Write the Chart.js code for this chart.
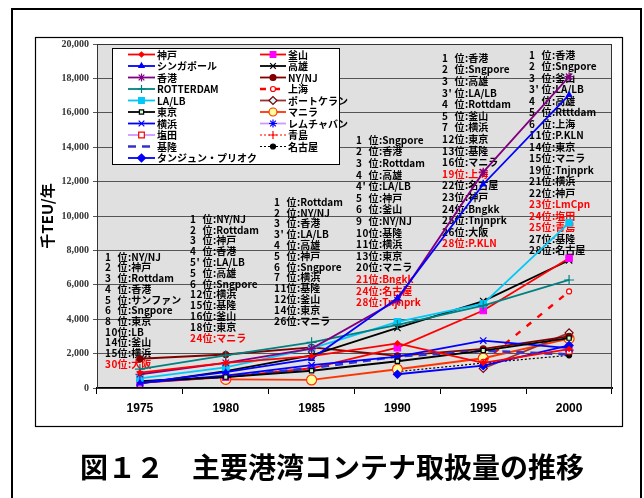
<!DOCTYPE html>
<html>
<head>
<meta charset="utf-8">
<script src="https://cdn.jsdelivr.net/npm/chart.js@4/dist/chart.umd.min.js"></script>
<style>
html,body{margin:0;padding:0;background:#fff}
canvas{display:block}
</style>
</head>
<body>
<canvas id="c" width="644" height="498"></canvas>
<script>
// 年次
const years = ['1975', '1980', '1985', '1990', '1995', '2000'];

// 取扱量（千TEU/年）
const kobe      = [900, 1456, 1857, 2596, 1464, 2266];
const singapore = [300, 917, 1699, 5224, 11846, 17040];
const hongkong  = [800, 1465, 2289, 5101, 12550, 18100];
const rotterdam = [1100, 1901, 2655, 3666, 4787, 6280];
const lalb      = [560, 1200, 2300, 3850, 4900, 9600];
const tokyo     = [400, 632, 1003, 1555, 2177, 2899];
const yokohama  = [300, 722, 1327, 1830, 2757, 2317];
const yantian   = [null, null, null, null, null, 2140];
const keelung   = [350, 660, 1158, 1828, 2166, 1955];
const tanjung   = [null, null, null, 800, 1300, 2476];
const busan     = [300, 634, 1148, 2348, 4503, 7540];
const kaohsiung = [250, 979, 1901, 3495, 5053, 7426];
const nynj      = [1700, 1947, 2367, 1872, 2273, 3006];
const shanghai  = [null, null, null, null, 1527, 5613];
const klang     = [null, null, null, null, 1134, 3206];
const manila    = [null, 500, 470, 1090, 1730, 2870];
const laemchabang = [null, null, null, null, null, 2200];
const qingdao   = [null, null, null, null, null, 2120];
const nagoya    = [null, null, null, 950, 1450, 1900];

// 各年の世界順位
const rank1975 = ['1 位:NY/NJ', '2 位:神戸', '3 位:Rottdam', '4 位:香港', '5 位:サンファン', '6 位:Sngpore', '8 位:東京', '10位:LB', '14位:釜山', '15位:横浜', '30位:大阪'];
const rank1980 = ['1 位:NY/NJ', '2 位:Rottdam', '3 位:神戸', '4 位:香港', "5'位:LA/LB", '5 位:高雄', '6 位:Sngpore', '12位:横浜', '15位:基隆', '16位:釜山', '18位:東京', '24位:マニラ'];
const rank1985 = ['1 位:Rottdam', '2 位:NY/NJ', '3 位:香港', "3'位:LA/LB", '4 位:高雄', '5 位:神戸', '6 位:Sngpore', '7 位:横浜', '11位:基隆', '12位:釜山', '14位:東京', '26位:マニラ'];
const rank1990 = ['1 位:Sngpore', '2 位:香港', '3 位:Rottdam', '4 位:高雄', "4'位:LA/LB", '5 位:神戸', '6 位:釜山', '9 位:NY/NJ', '10位:基隆', '11位:横浜', '13位:東京', '20位:マニラ', '21位:Bngkk', '24位:名古屋', '28位:Tnjnprk'];
const rank1995 = ['1 位:香港', '2 位:Sngpore', '3 位:高雄', "3'位:LA/LB", '4 位:Rottdam', '5 位:釜山', '7 位:横浜', '12位:東京', '13位:基隆', '16位:マニラ', '19位:上海', '22位:名古屋', '23位:神戸', '24位:Bngkk', '25位:Tnjnprk', '26位:大阪', '28位:P.KLN'];
const rank2000 = ['1 位:香港', '2 位:Sngpore', '3 位:釜山', "3'位:LA/LB", '4 位:高雄', '5 位:Rtttdam', '6 位:上海', '11位:P.KLN', '14位:東京', '15位:マニラ', '19位:Tnjnprk', '21位:横浜', '22位:神戸', '23位:LmCpn', '24位:塩田', '25位:青島', '27位:基隆', '28位:名古屋'];

// 赤字で示す行（新規参入港）
const red1975 = [10];
const red1980 = [11];
const red1985 = [];
const red1990 = [12, 13, 14];
const red1995 = [10, 16];
const red2000 = [13, 14, 15];

const yTicks = [0, 2000, 4000, 6000, 8000, 10000, 12000, 14000, 16000, 18000, 20000];

// 系列ごとの線と記号
function series(label, data, color, style, extra) {
  return Object.assign({
    label, data,
    borderColor: color,
    backgroundColor: color,
    borderWidth: 1.8,
    pointStyle: style,
    pointRadius: 3.5,
    pointBorderColor: color,
    pointBackgroundColor: color,
    pointBorderWidth: 1.2,
    tension: 0,
    spanGaps: false
  }, extra || {});
}

const datasets = [
  series('神戸', kobe, '#ff0000', 'rectRot', {pointRadius: 2.5}),
  series('シンガポール', singapore, '#0000ff', 'triangle', {pointRadius: 3}),
  series('香港', hongkong, '#800080', 'star', {pointRadius: 4.5}),
  series('ROTTERDAM', rotterdam, '#008080', 'cross', {pointRadius: 5}),
  series('LA/LB', lalb, '#00c8f8', 'rect', {pointRadius: 4.5}),
  series('東京', tokyo, '#000000', 'rect', {pointRadius: 3, pointBackgroundColor: '#ccffcc'}),
  series('横浜', yokohama, '#0000ff', 'crossRot', {pointRadius: 4.5}),
  series('塩田', yantian, '#cc99ff', 'rect', {pointRadius: 4, pointBorderColor: '#ff0000', pointBackgroundColor: '#ffffff'}),
  series('基隆', keelung, '#3333cc', false, {pointRadius: 0, borderWidth: 2.6, borderDash: [8, 6]}),
  series('タンジュン・プリオク', tanjung, '#0000ff', 'rectRot', {pointRadius: 4}),
  series('釜山', busan, '#ff0000', 'rect', {pointRadius: 4.5, pointBorderColor: '#ff00ff', pointBackgroundColor: '#ff00ff'}),
  series('高雄', kaohsiung, '#000000', 'crossRot', {pointRadius: 4.5}),
  series('NY/NJ', nynj, '#800000', 'circle', {pointRadius: 3}),
  series('上海', shanghai, '#ff0000', 'circle', {pointRadius: 2.5, pointBackgroundColor: '#ffffff', borderWidth: 2.4, borderDash: [6, 8]}),
  series('ポートケラン', klang, '#993333', 'rectRot', {pointRadius: 4, pointBorderColor: '#800000', pointBackgroundColor: '#ccffff'}),
  series('マニラ', manila, '#ff3300', 'circle', {pointRadius: 5, pointBackgroundColor: '#ffff99'}),
  series('レムチャバン', laemchabang, '#cc99ff', 'star', {pointRadius: 4.5, pointBorderColor: '#0000ff', pointBackgroundColor: '#0000ff'}),
  series('青島', qingdao, '#ff0000', 'cross', {pointRadius: 4, borderWidth: 1.2, borderDash: [2, 2]}),
  series('名古屋', nagoya, '#000000', 'circle', {pointRadius: 2.5, borderWidth: 1.2, borderDash: [2, 2]})
];

const rankColumns = [
  {rows: rank1975, red: red1975, x: 105, y: 257, step: 10.7},
  {rows: rank1980, red: red1980, x: 190, y: 219, step: 10.8},
  {rows: rank1985, red: red1985, x: 274, y: 202, step: 10.8},
  {rows: rank1990, red: red1990, x: 356, y: 140, step: 11.6},
  {rows: rank1995, red: red1995, x: 442, y: 58, step: 11.6},
  {rows: rank2000, red: red2000, x: 529, y: 55, step: 11.5}
];

const JP = "'Noto Sans CJK JP', 'Noto Sans', sans-serif";

function drawRankRow(ctx, text, x, y) {
  const cut = text.indexOf('位');
  const num = text.slice(0, cut);
  const rest = text.slice(cut + 1);
  ctx.textAlign = 'left';
  for (let i = 0; i < num.length; i++) {
    if (num[i] !== ' ') ctx.fillText(num[i], x + i * 6.4, y);
  }
  ctx.fillText('位', x + 12.5, y);
  ctx.fillText(rest, x + 23, y);
}

const decor = {
  id: 'decor',
  beforeDraw(chart) {
    const {ctx, chartArea: a} = chart;
    ctx.save();
    ctx.fillStyle = '#ffffff';
    ctx.fillRect(0, 0, chart.width, chart.height);
    ctx.strokeStyle = '#000';
    ctx.lineWidth = 2;
    ctx.strokeRect(12, 9, 629, 520);
    ctx.lineWidth = 1.2;
    ctx.strokeRect(35.5, 37.5, 587, 389);
    ctx.fillStyle = '#e0e0e0';
    ctx.fillRect(a.left, a.top, a.right - a.left, a.bottom - a.top);
    ctx.restore();
  },
  beforeDatasetsDraw(chart) {
    const {ctx, chartArea: a} = chart;
    ctx.save();
    ctx.strokeStyle = '#333';
    ctx.lineWidth = 1;
    ctx.strokeRect(a.left + 0.5, a.top + 0.5, a.right - a.left - 1, a.bottom - a.top);
    ctx.font = 'bold 10px ' + JP;
    ctx.textBaseline = 'middle';
    rankColumns.forEach(col => {
      col.rows.forEach((t, i) => {
        ctx.fillStyle = col.red.includes(i) ? '#ff0000' : '#000000';
        drawRankRow(ctx, t, col.x, col.y + i * col.step);
      });
    });
    ctx.restore();
  },
  afterDatasetsDraw(chart) {
    const ctx = chart.ctx;
    ctx.save();
    // 凡例
    ctx.fillStyle = '#ffffff';
    ctx.fillRect(112, 48, 227, 116);
    ctx.strokeStyle = '#000';
    ctx.lineWidth = 1;
    ctx.strokeRect(112.5, 48.5, 227, 116);
    ctx.font = 'bold 10px ' + JP;
    ctx.textBaseline = 'middle';
    ctx.textAlign = 'left';
    chart.data.datasets.forEach((ds, i) => {
      const col = i < 10 ? 0 : 1;
      const row = i < 10 ? i : i - 10;
      const x0 = col === 0 ? 128 : 260;
      const x1 = col === 0 ? 155 : 286;
      const y = 54.5 + row * 11.5;
      ctx.save();
      ctx.strokeStyle = ds.borderColor;
      ctx.lineWidth = ds.borderWidth;
      ctx.setLineDash(ds.borderDash || []);
      ctx.beginPath();
      ctx.moveTo(x0, y);
      ctx.lineTo(x1, y);
      ctx.stroke();
      ctx.setLineDash([]);
      if (ds.pointStyle && ds.pointRadius > 0) {
        ctx.fillStyle = ds.pointBackgroundColor;
        ctx.strokeStyle = ds.pointBorderColor;
        ctx.lineWidth = ds.pointBorderWidth;
        Chart.helpers.drawPoint(ctx, {pointStyle: ds.pointStyle, radius: Math.min(ds.pointRadius, 4), rotation: 0, borderWidth: ds.pointBorderWidth}, (x0 + x1) / 2, y);
      }
      ctx.restore();
      ctx.fillStyle = '#000';
      ctx.fillText(ds.label, x1 + 2, y + 0.5);
    });
    // 図題
    ctx.font = 'bold 28px ' + JP;
    ctx.textAlign = 'center';
    ctx.fillStyle = '#000';
    ctx.fillText('図１２　主要港湾コンテナ取扱量の推移', 332, 467);
    ctx.restore();
  }
};

new Chart(document.getElementById('c'), {
  type: 'line',
  data: {labels: years, datasets},
  options: {
    responsive: false,
    animation: false,
    events: [],
    layout: {padding: {left: 35, right: 32, top: 44, bottom: 70}},
    plugins: {legend: {display: false}, tooltip: {enabled: false}, title: {display: false}},
    scales: {
      x: {
        type: 'category',
        offset: true,
        grid: {offset: true, drawOnChartArea: false, tickLength: 6, color: '#000', lineWidth: 1},
        border: {color: '#000', width: 2},
        ticks: {padding: 7, color: '#000', font: {family: "'Liberation Sans', Arial, sans-serif", size: 12, weight: 'bold'}},
        afterFit(s) { s.height = 40; }
      },
      y: {
        min: 0, max: 20000,
        afterBuildTicks(s) { s.ticks = yTicks.map(v => ({value: v})); },
        ticks: {
          padding: 4,
          color: '#333',
          font: {family: "'Liberation Serif', 'Times New Roman', serif", size: 10, weight: 'bold'},
          callback: v => Number(v).toLocaleString('en-US')
        },
        grid: {color: '#555', lineWidth: 1, tickLength: 4},
        border: {color: '#000', width: 1},
        title: {display: true, text: '千TEU/年', color: '#000', padding: {top: 3, bottom: 0}, font: {family: JP, size: 15, weight: 'bold'}},
        afterFit(s) { s.width = 62; }
      }
    }
  },
  plugins: [decor]
});
</script>
</body>
</html>
